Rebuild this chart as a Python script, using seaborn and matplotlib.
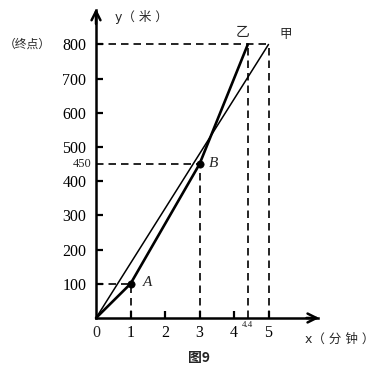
import matplotlib
matplotlib.use("Agg")
import matplotlib.pyplot as plt
import seaborn as sns
import pandas as pd

# ---- data ----
jia_x = [0, 5]
jia_y = [0, 800]
yi_x = [0, 1, 3, 4.4]
yi_y = [0, 100, 450, 800]
pt_names = ["A", "B"]
pt_x = [1, 3]
pt_y = [100, 450]
y_ticks = [100, 200, 300, 400, 500, 600, 700, 800]
x_ticks = [1, 2, 3, 4, 5]

sns.set_theme(style="white")
plt.rcParams['font.family'] = ['Liberation Serif', 'Noto Sans CJK SC', 'DejaVu Sans']

fig = plt.figure(figsize=(3.79, 3.71), dpi=100)
ax = fig.add_axes([0, 0, 1, 1])
ax.set_xlim(-2.783, 8.203)
ax.set_ylim(-155, 930)
ax.patch.set_alpha(0)

df_jia = pd.DataFrame({"x": jia_x, "y": jia_y})
df_yi = pd.DataFrame({"x": yi_x, "y": yi_y})
df_pt = pd.DataFrame({"x": pt_x, "y": pt_y, "n": pt_names})

dash = (0, (4.5, 3))
dkw = dict(color="black", lw=1.2, linestyle=dash, zorder=1)
# horizontal guides
ax.plot([0, jia_x[-1]], [jia_y[-1], jia_y[-1]], **dkw)
ax.plot([0, pt_x[1]], [pt_y[1], pt_y[1]], **dkw)
ax.plot([0, pt_x[0]], [pt_y[0], pt_y[0]], **dkw)
# vertical guides
ax.plot([pt_x[0], pt_x[0]], [0, pt_y[0]], **dkw)
ax.plot([pt_x[1], pt_x[1]], [0, pt_y[1]], **dkw)
ax.plot([yi_x[-1], yi_x[-1]], [0, yi_y[-1]], **dkw)
ax.plot([jia_x[-1], jia_x[-1]], [0, jia_y[-1]], **dkw)

sns.lineplot(data=df_jia, x="x", y="y", ax=ax, color="black", lw=1.1,
             sort=False, estimator=None, legend=False, zorder=3)
sns.lineplot(data=df_yi, x="x", y="y", ax=ax, color="black", lw=1.9,
             sort=False, estimator=None, legend=False, zorder=3)
sns.scatterplot(data=df_pt, x="x", y="y", ax=ax, color="black", s=28,
                edgecolor="black", legend=False, zorder=4)

# axes as spines through origin
for s in ["top", "right"]:
    ax.spines[s].set_visible(False)
ax.spines["left"].set_position(("data", 0))
ax.spines["bottom"].set_position(("data", 0))
ax.spines["left"].set_bounds(0, 900)
ax.spines["bottom"].set_bounds(0, 6.43)
for s in ["left", "bottom"]:
    ax.spines[s].set_linewidth(1.8)
    ax.spines[s].set_color("black")
ax.annotate("", xy=(0, 905), xytext=(0, 860),
            arrowprops=dict(arrowstyle="->", lw=1.8, color="black",
                            mutation_scale=16, shrinkA=0, shrinkB=0))
ax.annotate("", xy=(6.47, 0), xytext=(6.1, 0),
            arrowprops=dict(arrowstyle="->", lw=1.8, color="black",
                            mutation_scale=16, shrinkA=0, shrinkB=0))

ax.set_yticks(y_ticks)
ax.set_yticklabels([str(v) for v in y_ticks], fontsize=11.5,
                   family="Liberation Serif")
ax.set_xticks(x_ticks)
ax.set_xticklabels([str(v) for v in x_ticks], fontsize=11.5,
                   family="Liberation Serif")
ax.tick_params(axis="y", direction="in", length=5, width=1.6, pad=7,
               left=True, colors="black")
ax.tick_params(axis="x", direction="in", length=5, width=1.6, pad=5,
               bottom=True, colors="black")
ax.set_xlabel("")
ax.set_ylabel("")
ax.grid(False)

cjk = ['Noto Sans CJK SC', 'DejaVu Sans']
ax.text(0, -44, "0", ha="center", va="center", fontsize=11.5,
        family="Liberation Serif")
ax.text(0.55, 880, "y（ 米 ）", ha="left", va="center", fontsize=9,
        family=['DejaVu Sans', 'Noto Sans CJK SC'])
ax.text(-1.32, 800, "（终点）", ha="right", va="center", fontsize=8.5,
        family=cjk)
ax.text(-0.12, 450, "450", ha="right", va="center", fontsize=9,
        family="Liberation Serif")
ax.text(4.26, 836, "乙", ha="center", va="center", fontsize=10, family=cjk)
ax.text(5.5, 828, "甲", ha="center", va="center", fontsize=9, family=cjk)
for n, xv, yv in zip(pt_names, pt_x, pt_y):
    ax.text(xv + (0.5 if n == "A" else 0.42), yv + 3, n, ha="center",
            va="center", fontsize=11, style="italic",
            family="Liberation Serif")
ax.text(yi_x[-1], -20, "4.4", ha="center", va="center", fontsize=6.5,
        family="Liberation Serif")
ax.text(7.07, -61, "x（ 分 钟 ）", ha="center", va="center", fontsize=9,
        family=['DejaVu Sans', 'Noto Sans CJK SC'])
ax.text(2.99, -117, "图9", ha="center", va="center", fontsize=10,
        weight="bold", family=cjk)

fig.savefig("out.png", dpi=100, facecolor="white")
